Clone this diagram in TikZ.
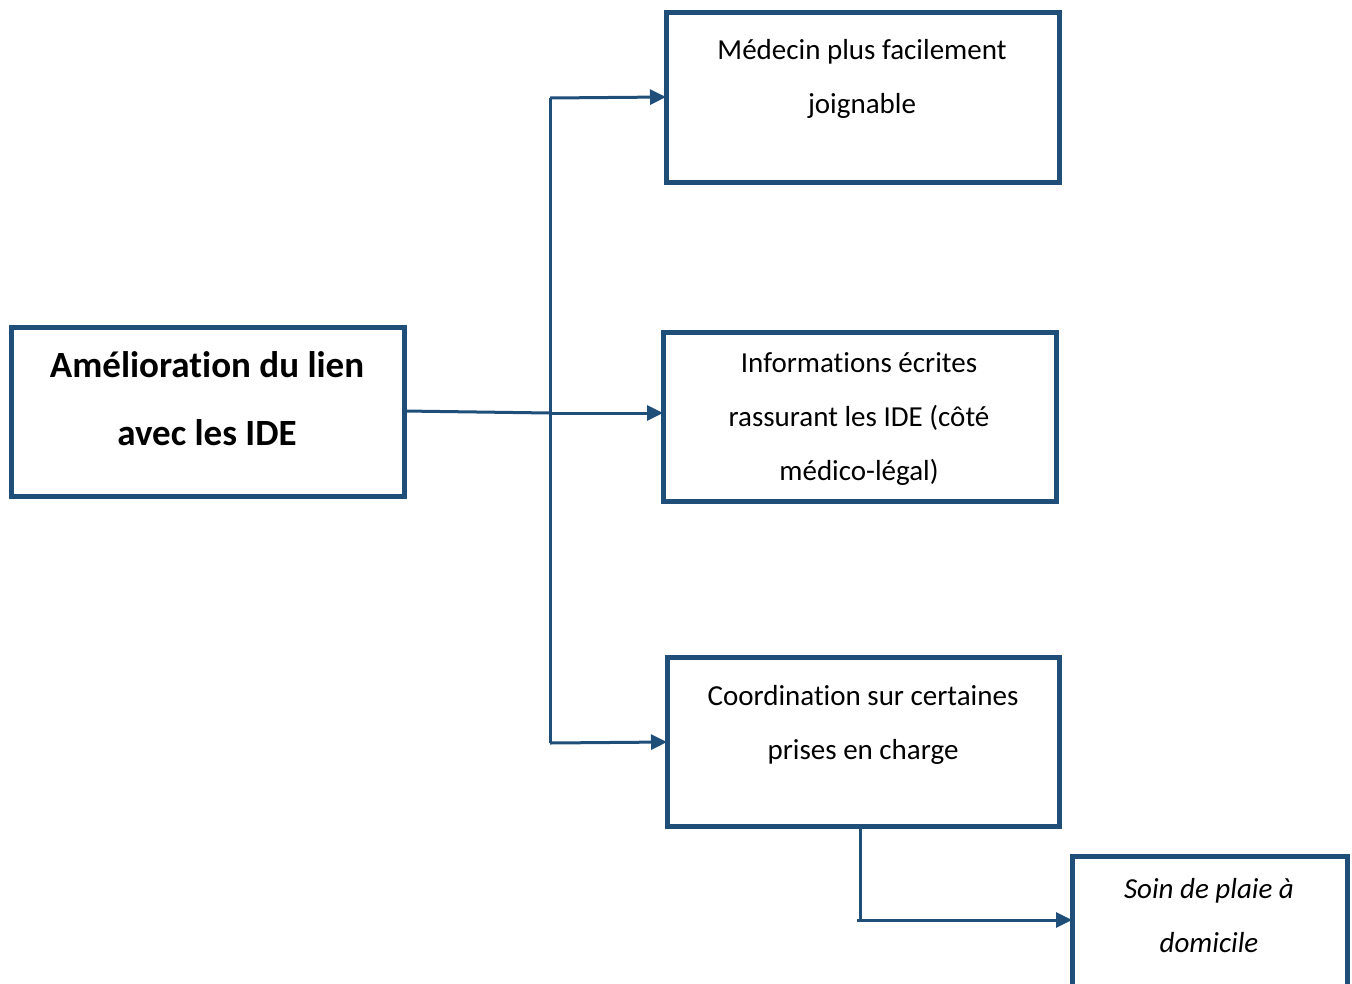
\documentclass[tikz,border=0pt]{standalone}
\usepackage{fontspec}
\setmainfont{Carlito}[Ligatures={NoCommon}]
\usetikzlibrary{arrows.meta}
\definecolor{dblue}{HTML}{1F4E79}
\tikzset{
  box/.style={draw=dblue, line width=5pt, inner sep=0pt, outer sep=0pt, anchor=north west, fill=none},
  txt/.style={align=center, inner sep=0pt, font=\fontsize{29pt}{54pt}\selectfont},
  ttl/.style={align=center, inner sep=0pt, font=\fontsize{37pt}{68pt}\selectfont\bfseries},
  conn/.style={draw=dblue, line width=3pt},
  arr/.style={conn, -{Triangle[length=16pt,width=15pt]}}
}
\begin{document}
\begin{tikzpicture}[x=1pt,y=-1pt]
\useasboundingbox (0,0) rectangle (1352,983);
\clip (0,0) rectangle (1352,983);
\node[box, minimum width=393pt, minimum height=169pt] (L) at (11,327) {};
\node[box, minimum width=393pt, minimum height=170pt] (A) at (666,12) {};
\node[box, minimum width=393pt, minimum height=169pt] (B) at (663,332) {};
\node[box, minimum width=392pt, minimum height=169pt] (C) at (667,657) {};
\node[box, minimum width=275pt, minimum height=200pt] (D) at (1072,856) {};
\node[ttl] (Lt) at (207,399) {Amélioration du lien\\avec les IDE};
\node[txt] (At) at (862,79) {Médecin plus facilement\\joignable};
\node[txt] (Bt) at (859,419) {Informations écrites\\rassurant les IDE (côté\\médico-légal)};
\node[txt] (Ct) at (863,725) {Coordination sur certaines\\prises en charge};
\node[txt, font=\fontsize{29pt}{54pt}\selectfont\itshape] (Dt) at (1209,916) {Soin de plaie à\\domicile};
\coordinate (j) at (550,413);
\coordinate (t1) at (550,98);
\coordinate (t3) at (550,743);
\coordinate (c1) at (860,826);
\coordinate (c2) at (860,920);
\coordinate (c3) at (857,920);
\draw[conn] (L.east |- 0,411) -- (j);
\draw[conn] (t1) -- (t3);
\draw[arr] (t1) -- (A.west |- 0,97);
\draw[arr] (j) -- (B.west |- 0,413);
\draw[arr] (t3) -- (C.west |- 0,742);
\draw[conn] (C.south -| c1) -- (c2);
\draw[arr] (c3) -- (D.west |- 0,920);
\end{tikzpicture}
\end{document}
